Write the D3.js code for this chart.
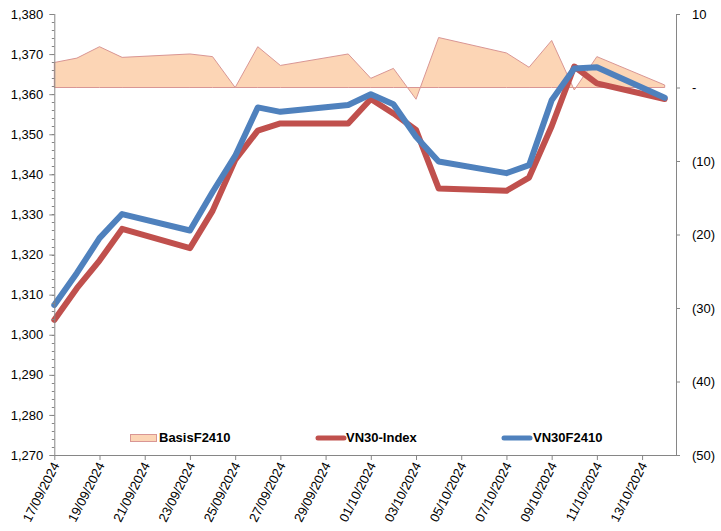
<!DOCTYPE html>
<html>
<head>
<meta charset="utf-8">
<script src="https://cdn.jsdelivr.net/npm/d3@7"></script>
<style>
  html, body { margin: 0; padding: 0; background: #fff; }
  svg { display: block; }
  text { font-family: "Liberation Sans", Arial, sans-serif; fill: #000; }
</style>
</head>
<body>
<svg id="chart" width="721" height="531"></svg>
<script>
const dates = ["2024-09-17","2024-09-18","2024-09-19","2024-09-20","2024-09-23","2024-09-24","2024-09-25","2024-09-26","2024-09-27","2024-09-30","2024-10-01","2024-10-02","2024-10-03","2024-10-04","2024-10-07","2024-10-08","2024-10-09","2024-10-10","2024-10-11","2024-10-14"];
const vn30Index = [1303.7,1311.6,1318.5,1326.4,1321.6,1330.9,1343.6,1350.9,1352.7,1352.7,1358.8,1355.2,1351.1,1336.5,1335.9,1339.2,1352.0,1366.9,1362.7,1358.8];
const vn30F2410 = [1307.4,1315.4,1324.1,1330.1,1326.0,1335.6,1344.6,1356.7,1355.6,1357.3,1360.0,1357.5,1349.4,1343.2,1340.3,1342.3,1358.5,1366.4,1366.7,1359.1];
const basisF2410 = [3.4,4.0,5.55,4.1,4.56,4.2,0.0,5.55,3.0,4.56,1.25,2.6,-1.6,6.8,4.7,2.75,6.4,-0.34,4.2,0.34];
const xTickDates = ["2024-09-17","2024-09-19","2024-09-21","2024-09-23","2024-09-25","2024-09-27","2024-09-29","2024-10-01","2024-10-03","2024-10-05","2024-10-07","2024-10-09","2024-10-11","2024-10-13"];
const leftTicks = [1270,1280,1290,1300,1310,1320,1330,1340,1350,1360,1370,1380];
const rightTicks = [-50,-40,-30,-20,-10,0,10];
const seriesNames = ["BasisF2410","VN30-Index","VN30F2410"];

const parse = d3.utcParse("%Y-%m-%d");
const fmtDate = d3.utcFormat("%d/%m/%Y");
const L = 54.3, R = 676, T = 14, B = 455;

const svg = d3.select("#chart");
const x = d3.scaleUtc()
  .domain([parse("2024-09-17"), new Date(Date.UTC(2024, 9, 14, 12))])
  .range([L, R]);
const yL = d3.scaleLinear().domain([1270, 1380]).range([B, T]);
const yR = d3.scaleLinear().domain([-50, 10]).range([B, T]);

const rows = dates.map((d, i) => ({ date: parse(d), idx: vn30Index[i], fut: vn30F2410[i], basis: basisF2410[i] }));

// Basis area
const area = d3.area().x(d => x(d.date)).y0(yR(0)).y1(d => yR(d.basis));
svg.append("path").datum(rows)
  .attr("d", d => area(d) + "Z")
  .attr("fill", "#FCD5B5")
  .attr("stroke", "#D99694")
  .attr("stroke-width", 1);

// Lines
const lineIdx = d3.line().x(d => x(d.date)).y(d => yL(d.idx));
const lineFut = d3.line().x(d => x(d.date)).y(d => yL(d.fut));
svg.append("path").datum(rows).attr("d", lineIdx)
  .attr("fill", "none").attr("stroke", "#C0504D").attr("stroke-width", 6)
  .attr("stroke-linejoin", "round").attr("stroke-linecap", "round");
svg.append("path").datum(rows).attr("d", lineFut)
  .attr("fill", "none").attr("stroke", "#4F81BD").attr("stroke-width", 6)
  .attr("stroke-linejoin", "round").attr("stroke-linecap", "round");

const axisColor = "#868686";

// Left axis
const gL = svg.append("g").attr("transform", `translate(${L},0)`);
const minorL = d3.range(1270, 1381, 2);
gL.selectAll("line.minor").data(minorL).join("line")
  .attr("x1", -2.5).attr("x2", 0)
  .attr("y1", d => Math.round(yL(d)) + 0.5).attr("y2", d => Math.round(yL(d)) + 0.5)
  .attr("stroke", axisColor);
const axL = d3.axisLeft(yL).tickValues(leftTicks).tickFormat(d3.format(",")).tickSize(5).tickPadding(6);
gL.call(axL);
gL.select(".domain").attr("stroke", axisColor).attr("d", `M0.5,${T}V${B}`);
gL.selectAll(".tick line").attr("stroke", axisColor);
gL.selectAll(".tick text").style("font-size", "13px").attr("fill", "#000");

// Right axis
const gR = svg.append("g").attr("transform", `translate(${R},0)`);
const axR = d3.axisRight(yR).tickValues(rightTicks)
  .tickFormat(d => d === 0 ? "-" : d < 0 ? `(${-d})` : `${d}`)
  .tickSize(4).tickPadding(12);
gR.call(axR);
gR.select(".domain").attr("stroke", axisColor).attr("d", `M0.5,${T}V${B}`);
gR.selectAll(".tick line").attr("stroke", axisColor);
gR.selectAll(".tick text").style("font-size", "13px").attr("fill", "#000");

// Bottom axis
const gB = svg.append("g").attr("transform", `translate(0,${B})`);
const axB = d3.axisBottom(x).tickValues(xTickDates.map(parse)).tickFormat(fmtDate).tickSize(5);
gB.call(axB);
gB.select(".domain").attr("stroke", axisColor).attr("d", `M${L},0.5H${R}`);
gB.selectAll(".tick line").attr("stroke", axisColor);
gB.selectAll(".tick text")
  .style("font-size", "13px").attr("fill", "#000")
  .attr("text-anchor", "end")
  .attr("y", 0).attr("dy", "0.35em")
  .attr("transform", "translate(1,8) rotate(-63)");

// Legend
const lg = svg.append("g");
lg.append("rect").attr("x", 130.5).attr("y", 434.5).attr("width", 26).attr("height", 7)
  .attr("fill", "#FCD5B5").attr("stroke", "#D99694");
lg.append("text").attr("x", 159).attr("y", 442).text(seriesNames[0])
  .style("font-size", "13px").style("font-weight", "bold");
lg.append("line").attr("x1", 318).attr("x2", 344).attr("y1", 438).attr("y2", 438)
  .attr("stroke", "#C0504D").attr("stroke-width", 5).attr("stroke-linecap", "round");
lg.append("text").attr("x", 346).attr("y", 442).text(seriesNames[1])
  .style("font-size", "13px").style("font-weight", "bold");
lg.append("line").attr("x1", 504).attr("x2", 530).attr("y1", 438).attr("y2", 438)
  .attr("stroke", "#4F81BD").attr("stroke-width", 5).attr("stroke-linecap", "round");
lg.append("text").attr("x", 533).attr("y", 442).text(seriesNames[2])
  .style("font-size", "13px").style("font-weight", "bold");
</script>
</body>
</html>
